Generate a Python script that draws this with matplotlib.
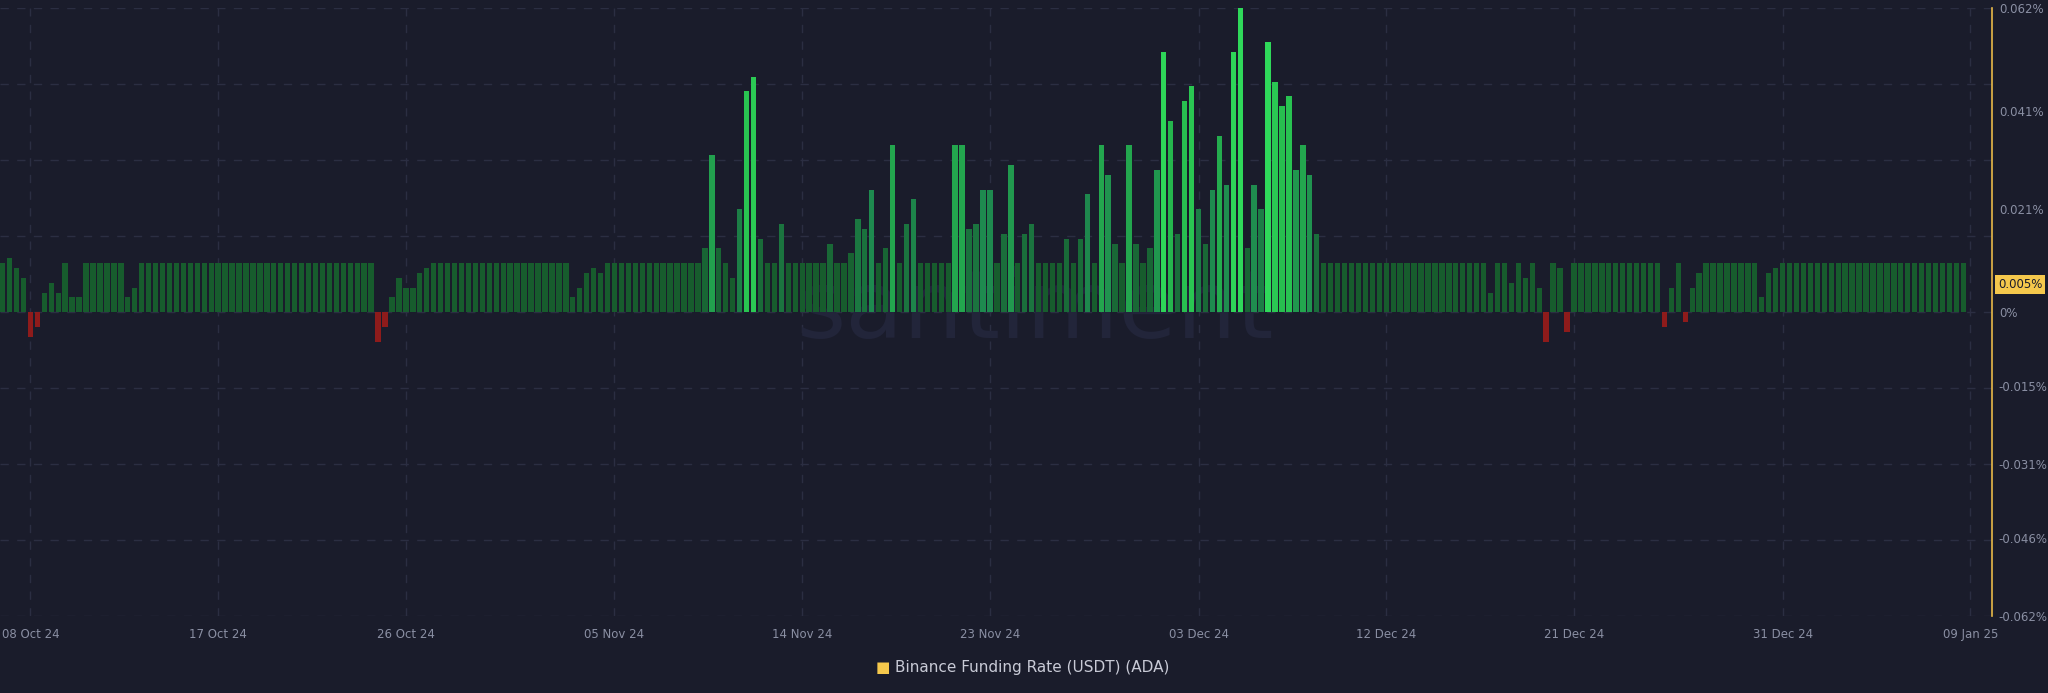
import numpy as np
import pandas as pd
import matplotlib
matplotlib.use("Agg")
from matplotlib import pyplot as plt
from matplotlib.colors import LinearSegmentedColormap

# 8h funding rates (%), ADA on Binance
rates_oct = [
    0.010, 0.011, 0.009, 0.007, -0.005, -0.003, 0.004, 0.006, 0.004, 0.010, 0.003, 0.003,
    0.010, 0.010, 0.010, 0.010, 0.010, 0.010, 0.003, 0.005,
    0.010, 0.010, 0.010, 0.010, 0.010, 0.010, 0.010, 0.010, 0.010,
    0.010, 0.010, 0.010, 0.010, 0.010, 0.010, 0.010, 0.010, 0.010, 0.010, 0.010, 0.010, 0.010,
    0.010, 0.010, 0.010, 0.010, 0.010, 0.010, 0.010, 0.010, 0.010, 0.010, 0.010, 0.010,
    -0.006, -0.003, 0.003, 0.007, 0.005, 0.005, 0.008, 0.009,
    0.010, 0.010, 0.010, 0.010, 0.010, 0.010, 0.010, 0.010, 0.010, 0.010,
    0.010, 0.010, 0.010, 0.010, 0.010, 0.010, 0.010, 0.010, 0.010, 0.010,
    0.003, 0.005, 0.008, 0.009, 0.008,
    0.010, 0.010, 0.010, 0.010, 0.010, 0.010, 0.010, 0.010, 0.010, 0.010, 0.010, 0.010, 0.010, 0.010,
]
rates_nov = [
    0.013, 0.032, 0.013, 0.010, 0.007, 0.021, 0.045, 0.048, 0.015, 0.010, 0.010, 0.018,
    0.010, 0.010, 0.010, 0.010, 0.010, 0.010, 0.014, 0.010, 0.010, 0.012,
    0.019, 0.017, 0.025, 0.010, 0.013, 0.034, 0.010, 0.018, 0.023, 0.010,
    0.010, 0.010, 0.010, 0.010, 0.034, 0.034, 0.017, 0.018, 0.025, 0.025,
    0.010, 0.016, 0.030, 0.010, 0.016, 0.018, 0.010, 0.010, 0.010, 0.010,
    0.015, 0.010, 0.015, 0.024, 0.010, 0.034, 0.028, 0.014, 0.010, 0.034,
    0.014, 0.010, 0.013, 0.029, 0.053, 0.039, 0.016, 0.043, 0.046, 0.021,
    0.014, 0.025, 0.036, 0.026, 0.053, 0.062, 0.013, 0.026, 0.021, 0.055,
    0.047, 0.042, 0.044, 0.029, 0.034, 0.028, 0.016,
]
rates_dec = [
    0.010, 0.010, 0.010, 0.010, 0.010, 0.010, 0.010, 0.010, 0.010, 0.010, 0.010, 0.010,
    0.010, 0.010, 0.010, 0.010, 0.010, 0.010, 0.010, 0.010, 0.010, 0.010, 0.010, 0.010,
    0.004, 0.010, 0.010, 0.006, 0.010, 0.007, 0.010, 0.005, -0.006, 0.010, 0.009, -0.004,
    0.010, 0.010, 0.010, 0.010, 0.010, 0.010, 0.010, 0.010, 0.010, 0.010, 0.010, 0.010, 0.010,
    -0.003, 0.005, 0.010, -0.002, 0.005, 0.008,
    0.010, 0.010, 0.010, 0.010, 0.010, 0.010, 0.010, 0.010,
    0.003, 0.008, 0.009,
    0.010, 0.010, 0.010, 0.010, 0.010, 0.010, 0.010, 0.010, 0.010, 0.010,
    0.010, 0.010, 0.010, 0.010, 0.010, 0.010, 0.010, 0.010, 0.010, 0.010,
    0.010, 0.010, 0.010, 0.010, 0.010, 0.010, 0.010,
]
rates = np.array(rates_oct + rates_nov + rates_dec)
times = pd.date_range("2024-10-06 16:00", periods=len(rates), freq="8h")

tick_dates = ["2024-10-08", "2024-10-17", "2024-10-26", "2024-11-05", "2024-11-14",
              "2024-11-23", "2024-12-03", "2024-12-12", "2024-12-21", "2024-12-31", "2025-01-09"]
y_ticks = [0.062, 0.041, 0.021, 0, -0.015, -0.031, -0.046, -0.062]
y_labels = ["0.062%", "0.041%", "0.021%", "0%", "-0.015%", "-0.031%", "-0.046%", "-0.062%"]
last_value = 0.0056

BG = "#1a1c2b"
GRID = "#2b2e42"
TXT = "#8a8fa3"

fig = plt.figure(figsize=(20.48, 6.93), dpi=100, facecolor=BG)
ax = fig.add_axes([0.0, 0.1105, 0.9726, 0.878])
ax.set_facecolor(BG)

cmap = LinearSegmentedColormap.from_list("g", ["#175c2d", "#1e8a4f", "#26b94d", "#2fd95a"])
cols = []
for v in rates:
    if v < 0:
        cols.append("#8e1b1b")
    else:
        cols.append(cmap(float(min(max((v - 0.010) / 0.045, 0.0), 1.0))))

ax.bar(times, rates, width=pd.Timedelta(hours=6.2), color=cols, align="center", zorder=3)

x0 = pd.Timestamp("2024-10-06 16:00") - pd.Timedelta(hours=8 * 0.376)
x1 = pd.Timestamp("2024-10-06 16:00") + pd.Timedelta(hours=8 * 286.1)
ax.set_xlim(x0, x1)
ax.set_ylim(-0.062, 0.062)

for g in np.arange(-4, 5) * 0.0155:
    ax.axhline(g, color=GRID, lw=1, ls=(0, (6, 6)), zorder=1)
for d in tick_dates:
    ax.axvline(pd.Timestamp(d), color=GRID, lw=1, ls=(0, (6, 6)), zorder=1)

ax.set_xticks([pd.Timestamp(d) for d in tick_dates])
ax.set_xticklabels([pd.Timestamp(d).strftime("%d %b %y") for d in tick_dates])
ax.yaxis.tick_right()
ax.set_yticks(y_ticks)
ax.set_yticklabels(y_labels)
ax.tick_params(axis="both", colors=TXT, labelsize=8.5, length=0)
ax.tick_params(axis="y", pad=5)
ax.tick_params(axis="x", pad=8)

for s in ["top", "left", "bottom"]:
    ax.spines[s].set_visible(False)
ax.spines["right"].set_color("#e8b949")
ax.spines["right"].set_linewidth(1.2)

ax.text(1.003, last_value, "0.005%", transform=ax.get_yaxis_transform(), ha="left", va="center",
        fontsize=8.5, color="#1a1c2b",
        bbox=dict(boxstyle="square,pad=0.25", fc="#f5c84c", ec="none"))

ax.text(0.52, 0.5, "santiment", transform=ax.transAxes, ha="center", va="center",
        fontsize=68, color="#22253a", zorder=2)

fig.text(0.4345, 0.037, "\u25A0", color="#f5c84c", fontsize=11, ha="right", va="center")
fig.text(0.437, 0.037, "Binance Funding Rate (USDT) (ADA)", color="#c8cad6", fontsize=11,
         ha="left", va="center")

fig.savefig("out.png", dpi=100, facecolor=BG)
